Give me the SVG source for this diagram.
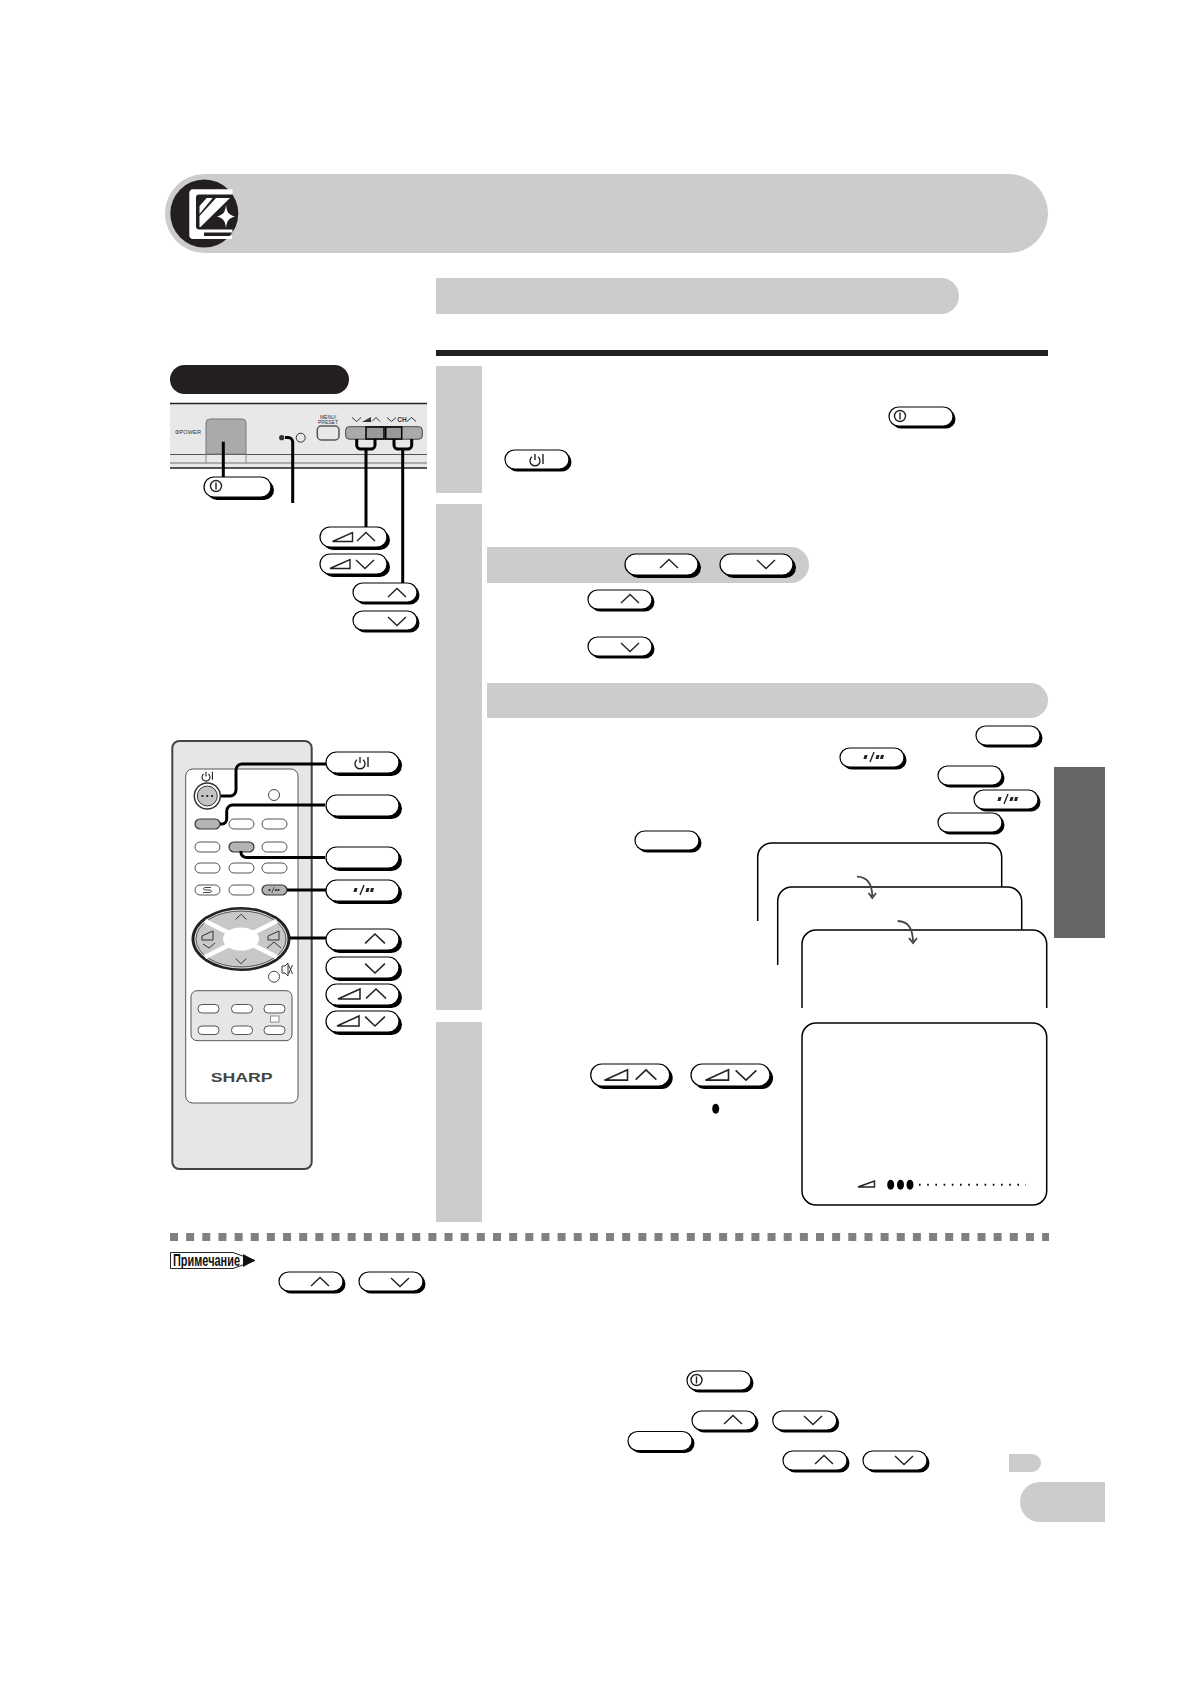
<svg xmlns="http://www.w3.org/2000/svg" xmlns:xlink="http://www.w3.org/1999/xlink" width="1190" height="1684" viewBox="0 0 1190 1684">
<style>
.band{fill:#ccc}
.s{fill:#000}
.b{fill:#fff;stroke:#000;stroke-width:1.2}
.g{fill:none;stroke:#222;stroke-width:1.4}
.lead{fill:none;stroke:#000;stroke-width:3}
.scr{fill:none;stroke:#000;stroke-width:1.5}
.key{fill:#fff;stroke:#555;stroke-width:1}
.keyg{fill:#b4b4b4;stroke:#333;stroke-width:1.2}
.t{font-family:"Liberation Sans",Arial,sans-serif;fill:#333}
</style>
<defs>
<g id="b64"><rect class="s" x="2.500" y="2.500" width="64" height="19" rx="9.500"/><rect class="b" width="64" height="19" rx="9.500"/></g>
<g id="b67"><rect class="s" x="3" y="3" width="67" height="20" rx="10"/><rect class="b" width="67" height="20" rx="10"/></g>
<g id="b72"><rect class="s" x="3" y="3" width="73" height="21" rx="10.500"/><rect class="b" width="73" height="21" rx="10.500"/></g>
<g id="b80"><rect class="s" x="3" y="3" width="79" height="22" rx="11"/><rect class="b" width="79" height="22" rx="11"/></g>
<path id="up" class="g" d="M-9 4L0-4.500L9 4"/>
<path id="dn" class="g" d="M-9-4L0 4.500L9-4"/>
<path id="vol" class="g" d="M-10 4.500L10-4.500V4.500Z"/>
<g id="pw"><circle class="g" r="5.500"/><path class="g" d="M0-3.500V3.500"/></g>
<g id="stby"><path class="g" d="M-3-3.200A5 5 0 1 0 3-3.200M0-6V0"/><path class="g" d="M8-6V4"/></g>
<g id="star"><path class="g" d="M-2 5L2-5"/><rect fill="#222" x="-8" y="-2" width="3" height="4" transform="skewX(-15)"/><rect fill="#222" x="4" y="-2" width="3" height="4" transform="skewX(-15)"/><rect fill="#222" x="8.500" y="-2" width="3" height="4" transform="skewX(-15)"/></g>
</defs>

<g id="header">
<rect class="band" x="165" y="174" width="883" height="79" rx="39.500"/>
<circle cx="204.300" cy="213.500" r="34" fill="#231f20"/>
<path fill="#fff" d="M193 189.300H232.500V194.500H199A3 3 0 0 0 196 197.500V226A3 3 0 0 0 199 229.500H232.500V232.500H204V236H232V239H193A4 4 0 0 1 189.300 235V193A4 4 0 0 1 193 189.300Z"/>
<path fill="#fff" d="M206.700 198H212.700L199.500 214V206ZM216 198H230L200.500 227H199.500V216Z"/>
<path fill="#fff" d="M226 205C227 212 228 214.500 235 216.500C228 218.500 227 221 226 228C225 221 224 218.500 217 216.500C224 214.500 225 212 226 205Z"/>
</g>

<g id="section-bars">
<path class="band" d="M436 278H941A18 18 0 0 1 941 314H436Z"/>
<rect x="436" y="350" width="612" height="6" fill="#231f20"/>
<rect class="band" x="436" y="366" width="46" height="127"/>
<rect class="band" x="436" y="504" width="46" height="506"/>
<rect class="band" x="436" y="1022" width="46" height="200"/>
<path class="band" d="M487 547H791A18 18 0 0 1 791 583H487Z"/>
<path class="band" d="M487 683H1030.500A17.500 17.500 0 0 1 1030.500 718H487Z"/>
<rect x="1054" y="767" width="51" height="171" fill="#666"/>
<path class="band" d="M1009 1454H1032A9 9 0 0 1 1032 1472H1009Z"/>
<path class="band" d="M1040 1482H1105V1522H1040A20 20 0 0 1 1040 1482Z"/>
</g>

<g id="panel">
<rect x="170" y="365" width="179" height="29" rx="14.500" fill="#231f20"/>
<rect x="170" y="403" width="257" height="65" fill="#e8e8e8"/>
<path d="M170 403.500H427M170 468H427" stroke="#222" stroke-width="1.500" fill="none"/>
<path d="M170 454.500H427" stroke="#555" stroke-width="1" fill="none"/>
<path d="M170 463H427" stroke="#999" stroke-width="1.500" fill="none"/>
<path d="M206 454V463M246 454V463" stroke="#888" stroke-width="1" fill="none"/>
<path d="M206 454V423A4 4 0 0 1 210 419H242A4 4 0 0 1 246 423V454Z" fill="#aaa" stroke="#777" stroke-width="1"/>
<text class="t" x="175" y="434" font-size="6" textLength="26" lengthAdjust="spacingAndGlyphs">ΦPOWER</text>
<circle cx="281.700" cy="437.700" r="2.600" fill="#333"/>
<circle cx="300.700" cy="437.700" r="4.500" fill="#e8e8e8" stroke="#333" stroke-width="1"/>
<rect x="317.300" y="426" width="21.700" height="14" rx="4" fill="#e8e8e8" stroke="#555" stroke-width="1.500"/>
<text class="t" x="328" y="418.500" font-size="5" text-anchor="middle">MENU/</text>
<text class="t" x="328" y="424" font-size="5" text-anchor="middle">PRESET</text>
<rect x="345.700" y="426.700" width="76.600" height="12.500" rx="3.500" fill="#aaa" stroke="#444" stroke-width="1"/>
<rect x="366" y="427" width="18" height="12" fill="#999" stroke="#000" stroke-width="1.500"/>
<rect x="385.700" y="427" width="16" height="12" fill="#999" stroke="#000" stroke-width="1.500"/>
<path d="M352 417.500L356.500 421.500L361 417.500M372 421.500L376 417.500L380 421.500M387 417.500L391.500 421.500L396 417.500M407 421.500L411.500 417.500L416 421.500" fill="none" stroke="#333" stroke-width="1"/>
<path d="M362 422L371 417V422Z" fill="#333"/>
<text class="t" x="402" y="422" font-size="6.500" font-weight="bold" text-anchor="middle">CH</text>
</g>

<g id="remote">
<rect x="172.300" y="741" width="139.400" height="428" rx="7" fill="#e6e6e6" stroke="#444" stroke-width="2"/>
<rect x="185.700" y="769" width="112.300" height="334" rx="7" fill="#fff" stroke="#555" stroke-width="1"/>
<use href="#stby" transform="translate(206 776.500) scale(.8)"/>
<circle cx="207.300" cy="796" r="13" fill="#fff" stroke="#333" stroke-width="1.500"/>
<circle cx="207.300" cy="796" r="10" fill="#c4c4c4" stroke="#333" stroke-width="1"/>
<path d="M202.500 796h.01M207.300 796h.01M212 796h.01" stroke="#111" stroke-width="2.200" stroke-linecap="round"/>
<circle cx="274" cy="795" r="5.500" fill="#fff" stroke="#444" stroke-width="1"/>
<rect class="keyg" x="195" y="819" width="25" height="10" rx="5"/>
<rect class="key" x="229" y="819" width="25" height="10" rx="5"/>
<rect class="key" x="262" y="819" width="25" height="10" rx="5"/>
<rect class="key" x="195" y="842" width="25" height="10" rx="5"/>
<rect class="keyg" x="229" y="842" width="25" height="10" rx="5"/>
<rect class="key" x="262" y="842" width="25" height="10" rx="5"/>
<rect class="key" x="195" y="863" width="25" height="10" rx="5"/>
<rect class="key" x="229" y="863" width="25" height="10" rx="5"/>
<rect class="key" x="262" y="863" width="25" height="10" rx="5"/>
<rect class="key" x="195" y="885" width="25" height="10" rx="5"/>
<path d="M211 887.500H206C202.500 887.500 202.500 890 206 890H209C212.500 890 212.500 892.500 209 892.500H203" fill="none" stroke="#333" stroke-width=".9"/>
<rect class="key" x="229" y="885" width="25" height="10" rx="5"/>
<rect class="keyg" x="262" y="885" width="25" height="10" rx="5"/>
<use href="#star" transform="translate(273 890) scale(.55)"/>
<ellipse cx="241" cy="939" rx="49.500" ry="32" fill="#222"/>
<ellipse cx="241" cy="939" rx="46.500" ry="29.500" fill="#e0e0e0"/>
<ellipse cx="241" cy="939" rx="45" ry="28" fill="#c8c8c8" stroke="#333" stroke-width=".8"/>
<path d="M205 921L277 957M277 921L205 957" stroke="#fff" stroke-width="4.500" fill="none"/>
<ellipse cx="241" cy="939" rx="18" ry="11.500" fill="#fff"/>
<use href="#up" transform="translate(241 917) scale(.6)"/>
<use href="#dn" transform="translate(241 961) scale(.6)"/>
<path d="M202 936L213 931V940H202ZM203 944L209 948L215 943" fill="none" stroke="#333" stroke-width="1"/>
<path d="M268 936L279 931V940H268ZM267 948L274 942L281 948" fill="none" stroke="#333" stroke-width="1"/>
<circle cx="274" cy="976.700" r="5.500" fill="#fff" stroke="#444" stroke-width="1"/>
<path d="M282 966H285L288 963V976L285 973H282ZM288.500 965L292.500 974M292.500 965L288.500 974" fill="none" stroke="#333" stroke-width="1"/>
<rect x="191" y="990.700" width="101" height="50" rx="6" fill="#e6e6e6" stroke="#555" stroke-width="1"/>
<rect class="key" x="198" y="1004.500" width="21" height="8.500" rx="4"/>
<rect class="key" x="231.500" y="1004.500" width="21" height="8.500" rx="4"/>
<rect class="key" x="264" y="1004.500" width="21" height="8.500" rx="4"/>
<rect class="key" x="198" y="1026" width="21" height="8.500" rx="4"/>
<rect class="key" x="231.500" y="1026" width="21" height="8.500" rx="4"/>
<rect class="key" x="264" y="1026" width="21" height="8.500" rx="4"/>
<rect x="270.500" y="1016" width="8.500" height="6" fill="#fff" stroke="#666" stroke-width=".7"/>
<text x="241.700" y="1082" font-family="'Liberation Sans',Arial,sans-serif" font-weight="bold" font-size="13" fill="#444" text-anchor="middle" textLength="62" lengthAdjust="spacingAndGlyphs">SHARP</text>
</g>

<g id="screens">
<path class="scr" d="M757.700 921V857A14 14 0 0 1 771.700 843H987.700A14 14 0 0 1 1001.700 857V887"/>
<path class="scr" d="M777.700 965V901A14 14 0 0 1 791.700 887H1007.700A14 14 0 0 1 1021.700 901V930"/>
<path class="scr" d="M802 1008V944A14 14 0 0 1 816 930H1032.700A14 14 0 0 1 1046.700 944V1008"/>
<rect class="scr" x="802" y="1023" width="244.700" height="182" rx="14"/>
<path class="g" stroke-width="1" d="M858 1187L874.500 1181V1187Z"/>
<ellipse cx="890.700" cy="1184.700" rx="3.500" ry="5"/>
<ellipse cx="900.500" cy="1184.700" rx="3.500" ry="5"/>
<ellipse cx="910" cy="1184.700" rx="3.500" ry="5"/>
<path d="M919 1184.700H1026" stroke="#000" stroke-width="2" stroke-dasharray="1.600 6.600" fill="none"/>
<ellipse cx="715.700" cy="1108.700" rx="3.500" ry="5"/>
</g>

<g id="connectors">
<path class="lead" d="M223.300 441.700V477"/>
<path class="lead" d="M285 437.500H288A4.500 4.500 0 0 1 292.700 442V503"/>
<path class="lead" d="M356.700 439V445A4 4 0 0 0 360.700 449H371A4 4 0 0 0 375 445V439M366 449V527"/>
<path class="lead" d="M394 439V445A4 4 0 0 0 398 449H407.700A4 4 0 0 0 411.700 445V439M402.700 449V583"/>
<path class="lead" d="M221 796H230A6 6 0 0 0 236 790V770A6 6 0 0 1 242 764H326"/>
<path class="lead" d="M220 824H222A5 5 0 0 0 226.700 819V811A6 6 0 0 1 232.700 805H325"/>
<path class="lead" d="M241 851V852A5 5 0 0 0 246 857.500H325"/>
<path class="lead" d="M287 890H326"/>
<path class="lead" d="M290 938H326"/>
<path d="M857 876.700C868 877 872 884 872.300 896M868.500 893L872.300 898L876 893" fill="none" stroke="#444" stroke-width="1.800"/>
<path d="M897.700 921C909 921.500 912.500 929 913 941M909 938L913 943L917 938" fill="none" stroke="#444" stroke-width="1.800"/>
</g>

<g id="separator">
<path d="M170 1237H1049" stroke="#808080" stroke-width="8" stroke-dasharray="8 8.150" fill="none"/>
</g>

<g id="note-label">
<path d="M170.500 1252.500H233L255 1260.500L233 1268.500H170.500Z" fill="#fff" stroke="#222" stroke-width="1"/>
<path d="M243 1254L255 1260.500L243 1267Z" fill="#111"/>
<text x="173" y="1266" font-family="'Liberation Sans',Arial,sans-serif" font-weight="bold" font-size="16" fill="#111" textLength="67" lengthAdjust="spacingAndGlyphs">Примечание</text>
</g>

<g id="btn-panel-power"><use href="#b67" x="204" y="477"/><use href="#pw" x="216" y="486"/></g>
<g id="btn-panel-volup"><use href="#b67" x="320" y="527"/><use href="#vol" x="342.500" y="537"/><use href="#up" x="366" y="537"/></g>
<g id="btn-panel-voldn"><use href="#b67" x="320" y="554"/><use href="#vol" x="340" y="564"/><use href="#dn" x="365" y="564"/></g>
<g id="btn-panel-chup"><use href="#b64" x="353" y="583"/><use href="#up" x="397" y="593"/></g>
<g id="btn-panel-chdn"><use href="#b64" x="353" y="611"/><use href="#dn" x="397" y="621"/></g>

<g id="btn-s1-power"><use href="#b64" x="889" y="407"/><use href="#pw" x="900" y="416"/></g>
<g id="btn-s1-standby"><use href="#b64" x="505" y="450"/><use href="#stby" x="535" y="460"/></g>
<g id="btn-s2-chup"><use href="#b72" x="625" y="554"/><use href="#up" x="669" y="564"/></g>
<g id="btn-s2-chdn"><use href="#b72" x="720" y="554"/><use href="#dn" x="766" y="564"/></g>
<g id="btn-s2-inline-up"><use href="#b64" x="588" y="590"/><use href="#up" x="630" y="599"/></g>
<g id="btn-s2-inline-dn"><use href="#b64" x="588" y="637"/><use href="#dn" x="630" y="647"/></g>
<g id="btn-s2-a"><use href="#b64" x="976" y="726"/></g>
<g id="btn-s2-b"><use href="#b64" x="840" y="748"/><use href="#star" x="872" y="757"/></g>
<g id="btn-s2-c"><use href="#b64" x="938" y="766"/></g>
<g id="btn-s2-d"><use href="#b64" x="974" y="790"/><use href="#star" x="1006" y="799"/></g>
<g id="btn-s2-e"><use href="#b64" x="938" y="813"/></g>
<g id="btn-s2-f"><use href="#b64" x="635" y="831"/></g>
<g id="btn-s3-volup"><use href="#b80" x="590.700" y="1064"/><use href="#vol" transform="translate(616 1075) scale(1.150)"/><use href="#up" transform="translate(646 1075) scale(1.150)"/></g>
<g id="btn-s3-voldn"><use href="#b80" x="691" y="1064"/><use href="#vol" transform="translate(717 1075) scale(1.150)"/><use href="#dn" transform="translate(746 1075) scale(1.150)"/></g>

<g id="btn-rc-standby"><use href="#b72" x="326" y="752"/><use href="#stby" x="360" y="763"/></g>
<g id="btn-rc-2"><use href="#b72" x="326" y="795"/></g>
<g id="btn-rc-3"><use href="#b72" x="326" y="847"/></g>
<g id="btn-rc-4"><use href="#b72" x="326" y="880"/><use href="#star" x="362" y="890"/></g>
<g id="btn-rc-chup"><use href="#b72" x="326" y="929"/><use href="#up" transform="translate(375 939) scale(1.100)"/></g>
<g id="btn-rc-chdn"><use href="#b72" x="326" y="957"/><use href="#dn" transform="translate(375 968) scale(1.100)"/></g>
<g id="btn-rc-volup"><use href="#b72" x="326" y="984"/><use href="#vol" transform="translate(349 994) scale(1.100)"/><use href="#up" transform="translate(376 994) scale(1.100)"/></g>
<g id="btn-rc-voldn"><use href="#b72" x="326" y="1011"/><use href="#vol" transform="translate(348 1021) scale(1.100)"/><use href="#dn" transform="translate(375 1021) scale(1.100)"/></g>

<g id="btn-note-up"><use href="#b64" x="279" y="1272"/><use href="#up" x="320" y="1282"/></g>
<g id="btn-note-dn"><use href="#b64" x="359" y="1272"/><use href="#dn" x="400" y="1282"/></g>
<g id="btn-note-power"><use href="#b64" x="687" y="1371"/><use href="#pw" x="696.500" y="1380"/></g>
<g id="btn-note-chup"><use href="#b64" x="692" y="1411"/><use href="#up" x="733" y="1420"/></g>
<g id="btn-note-chdn"><use href="#b64" x="772.700" y="1411"/><use href="#dn" x="813" y="1420"/></g>
<g id="btn-note-blank"><use href="#b64" x="628" y="1431.500"/></g>
<g id="btn-note-chup2"><use href="#b64" x="783" y="1451"/><use href="#up" x="824" y="1460"/></g>
<g id="btn-note-chdn2"><use href="#b64" x="863" y="1451"/><use href="#dn" x="904" y="1460"/></g>
</svg>
